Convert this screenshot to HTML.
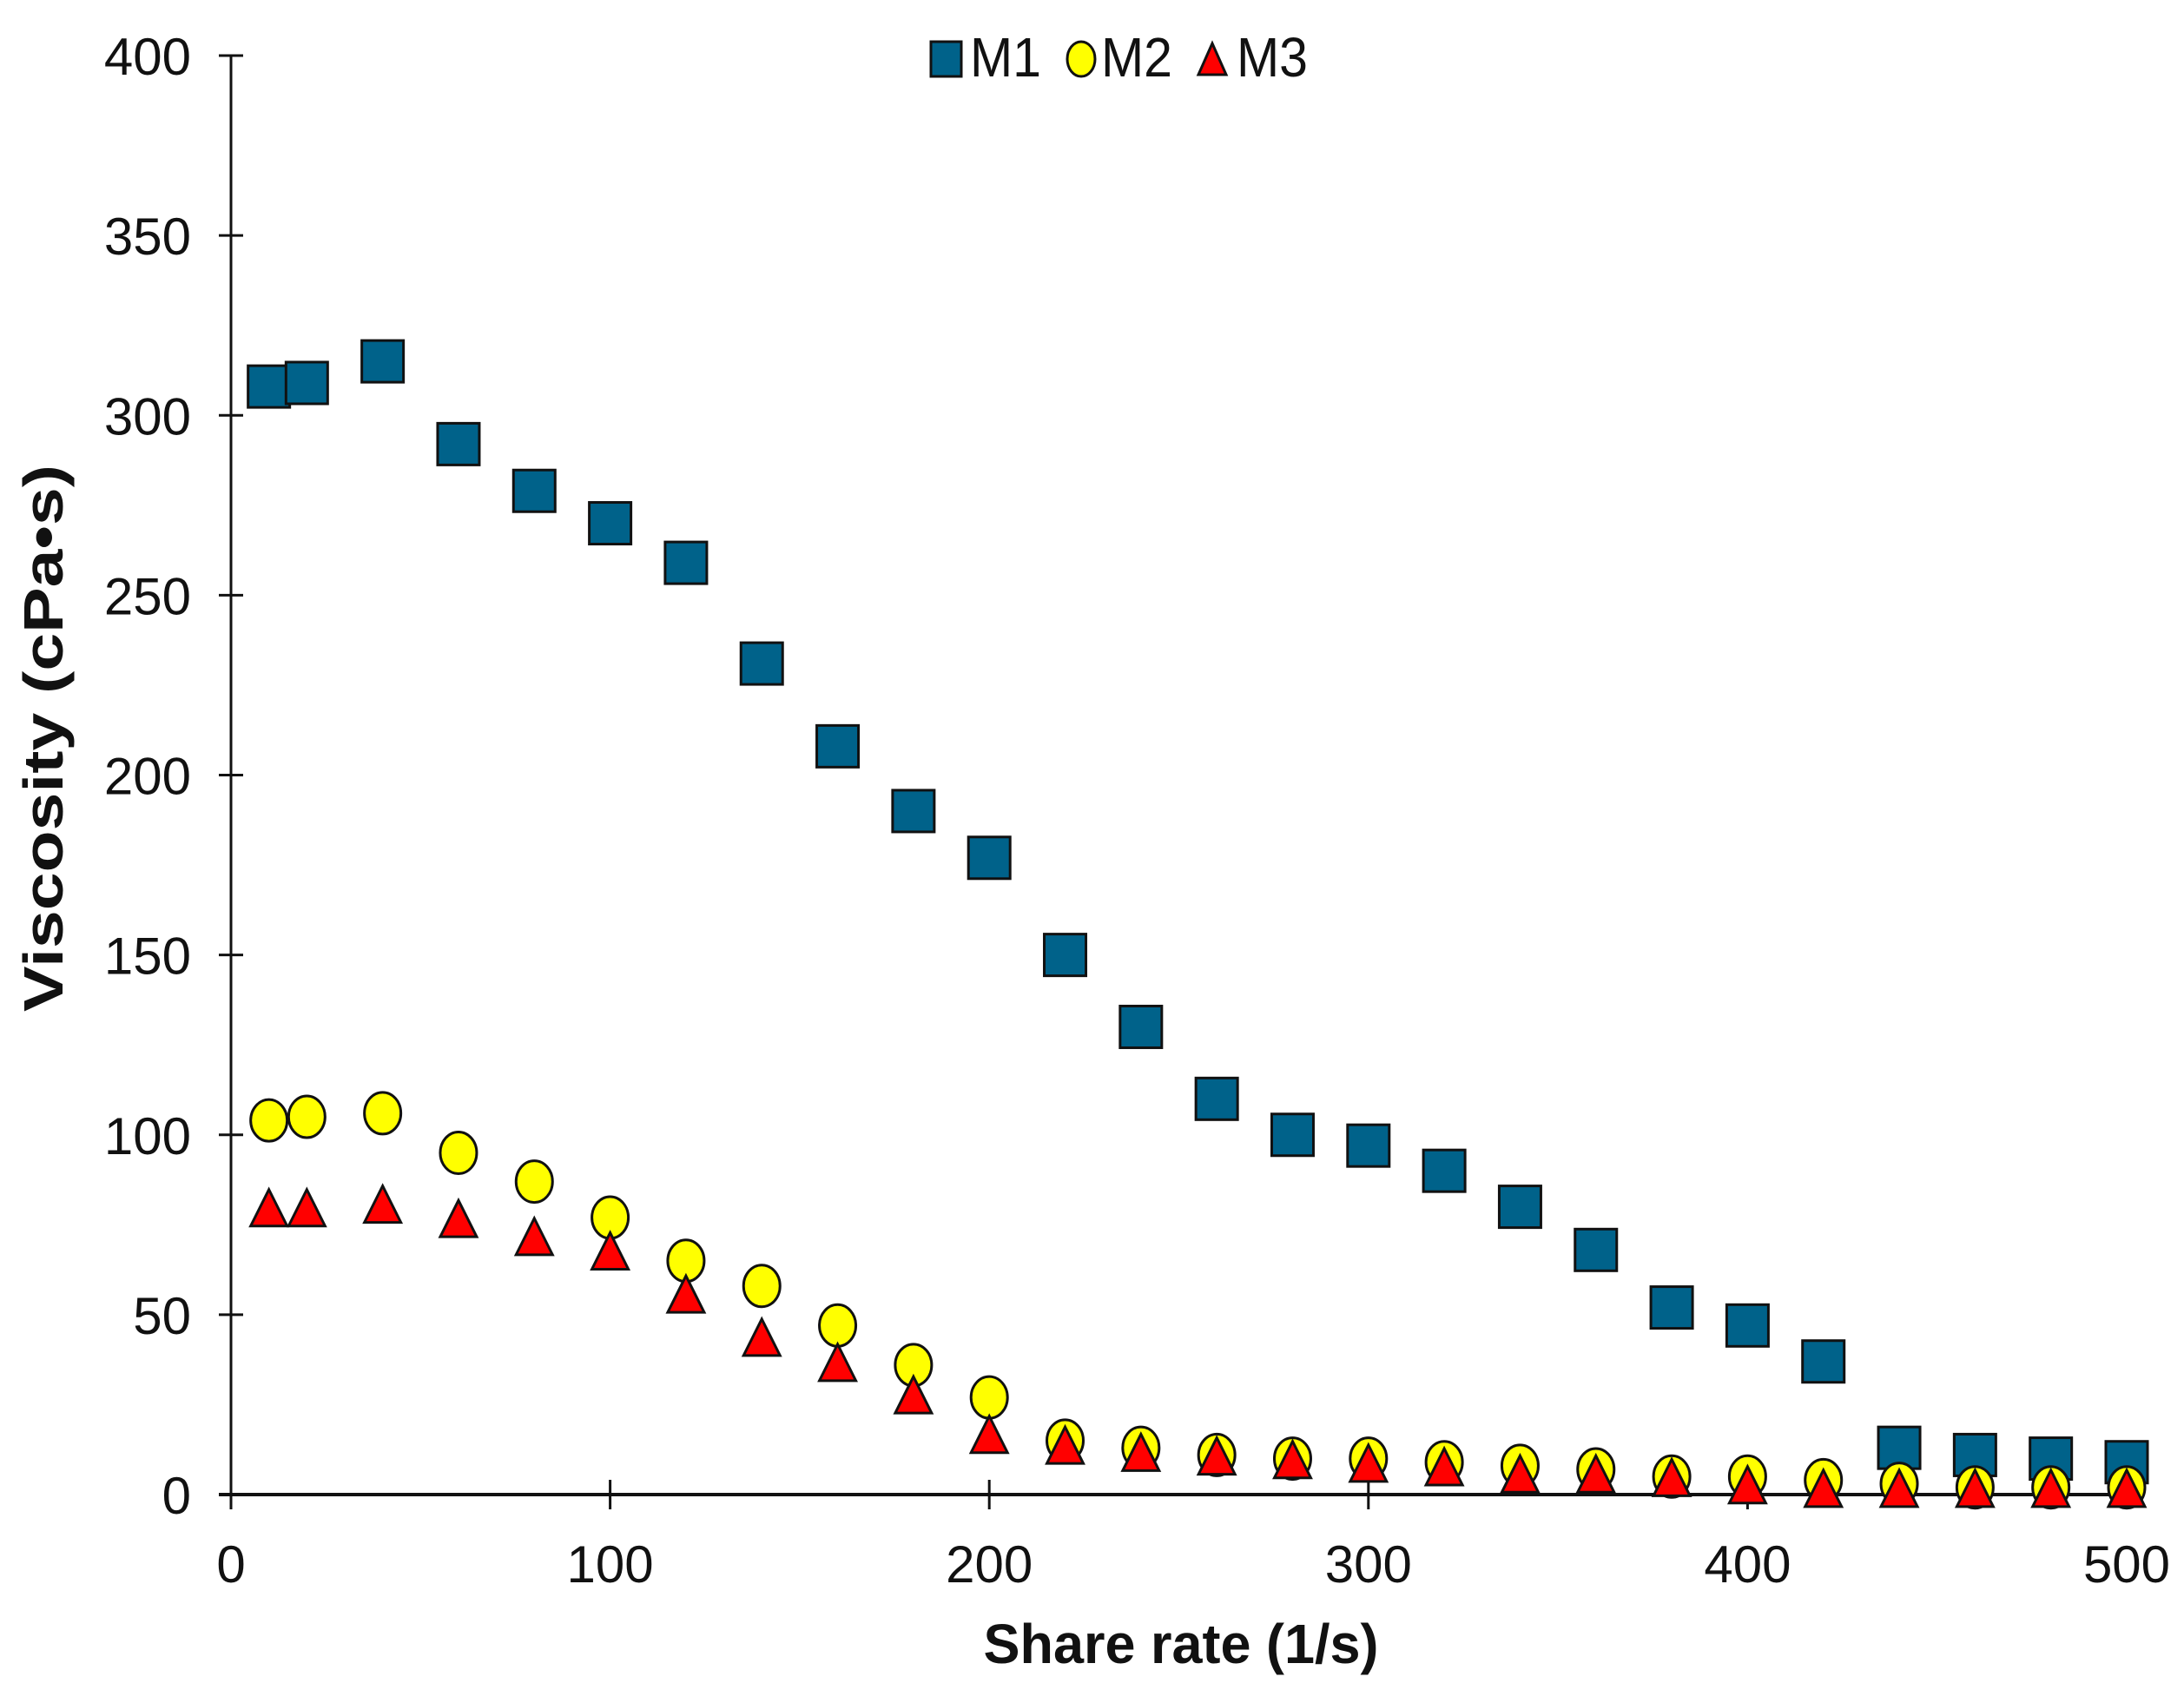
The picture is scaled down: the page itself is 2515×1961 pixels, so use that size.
<!DOCTYPE html>
<html><head><meta charset="utf-8">
<style>
html,body{margin:0;padding:0;background:#fff;}
svg text{font-family:"Liberation Sans",Arial,sans-serif;fill:#111;}
</style></head>
<body>
<svg id="chart" width="2515" height="1956" viewBox="0 0 2515 1956" xmlns="http://www.w3.org/2000/svg">
<g id="axes"></g>
<g id="marks"></g>
<g id="legend">
  <rect x="1072" y="48" width="35" height="40" fill="#00628a" stroke="#111" stroke-width="3"/>
  <text x="1117" y="88" font-size="64" textLength="82" lengthAdjust="spacingAndGlyphs">M1</text>
  <ellipse cx="1245" cy="68" rx="16" ry="20" fill="#ffff00" stroke="#111" stroke-width="3"/>
  <text x="1268" y="88" font-size="64" textLength="82" lengthAdjust="spacingAndGlyphs">M2</text>
  <polygon points="1396,50 1412,86 1380,86" fill="#ff0000" stroke="#111" stroke-width="3"/>
  <text x="1424" y="88" font-size="64" textLength="82" lengthAdjust="spacingAndGlyphs">M3</text>
</g>
<text x="1360" y="1915" font-size="64" font-weight="bold" text-anchor="middle" textLength="455" lengthAdjust="spacingAndGlyphs">Share rate (1/s)</text>
<text transform="translate(72,850) rotate(-90)" font-size="64" font-weight="bold" text-anchor="middle" textLength="630" lengthAdjust="spacingAndGlyphs">Viscosity  (cPa•s)</text>
</svg>
<script>
const shearRates = [10,20,40,60,80,100,120,140,160,180,200,220,240,260,280,300,320,340,360,380,400,420,440,460,480,500];
const m1Values = [308,309,315,292,279,270,259,231,208,190,177,150,130,110,100,97,90,80,68,52,47,37,13,11,10,9];
const m2Values = [104,105,106,95,87,77,65,58,47,36,27,15,13,11,10,10,9,8,7,5,5,4,3,2,2,2];
const m3Values = [79,79,80,76,71,67,55,43,36,27,16,13,11,10,9,8,7,5,5,4,2,1,1,1,1,1];
const xTicks = [0,100,200,300,400,500];
const yTicks = [0,50,100,150,200,250,300,350,400];

const NS = "http://www.w3.org/2000/svg";
const X0 = 266, X1 = 2449, Y0 = 1721, Y1 = 64;
function xs(v){ return X0 + (v - 0) / 500 * (X1 - X0); }
function ys(v){ return Y0 - (v - 0) / 400 * (Y0 - Y1); }
function mk(tag, attrs, parent){
  const e = document.createElementNS(NS, tag);
  for (const k in attrs) e.setAttribute(k, attrs[k]);
  parent.appendChild(e);
  return e;
}
const axes = document.getElementById('axes');
const marks = document.getElementById('marks');

let l = mk('line', {x1:X0, y1:Y1, x2:X0, y2:Y0+14, stroke:'#111', 'stroke-width':3}, axes);


l = mk('line', {x1:X0-14, y1:Y0, x2:X1, y2:Y0, stroke:'#111', 'stroke-width':4}, axes);



yTicks.forEach(v => {
  const t = mk('line', {x1:X0-14, y1:ys(v), x2:X0+14, y2:ys(v), stroke:'#111', 'stroke-width':3}, axes);
  
  
  const tx = mk('text', {x:220, y:ys(v)+22, 'font-size':60, 'text-anchor':'end'}, axes);
  tx.textContent = v;
  
  
});
xTicks.forEach(v => {
  const t = mk('line', {x1:xs(v), y1:Y0-17, x2:xs(v), y2:Y0+17, stroke:'#111', 'stroke-width':3}, axes);
  
  
  const tx = mk('text', {x:xs(v), y:1822, 'font-size':60, 'text-anchor':'middle'}, axes);
  tx.textContent = v;
  
  
});

shearRates.forEach((x, i) => {
  const cx = xs(x), cy = ys(m1Values[i]);
  const r = mk('rect', {x:cx-24, y:cy-24, width:48, height:48, fill:'#00628a', stroke:'#111', 'stroke-width':3}, marks);
  
  
});
shearRates.forEach((x, i) => {
  const c = mk('ellipse', {cx:xs(x), cy:ys(m2Values[i]), rx:21, ry:24, fill:'#ffff00', stroke:'#111', 'stroke-width':3}, marks);
  
  
});
shearRates.forEach((x, i) => {
  const cx = xs(x), cy = ys(m3Values[i]);
  const p = mk('polygon', {points:`${cx},${cy-24} ${cx+21},${cy+18} ${cx-21},${cy+18}`, fill:'#ff0000', stroke:'#111', 'stroke-width':3}, marks);
  
  
});
</script>
</body></html>
